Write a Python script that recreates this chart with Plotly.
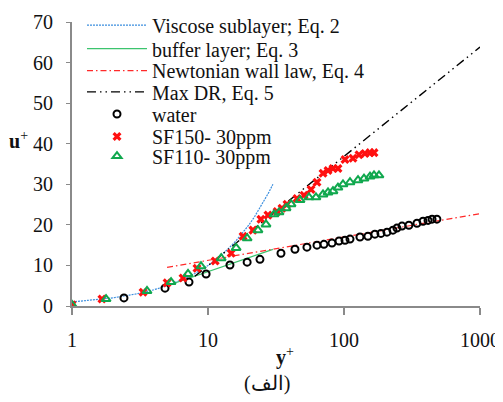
import plotly.graph_objects as go

# ---- data ----
water_y = [2.41, 4.83, 7.25, 9.68, 14.5, 19.4, 24.1, 34.4, 43.6, 53.4, 63.3, 71.2, 81.6, 91.9,
           101.7, 110.7, 131.0, 149.9, 168.7, 187.0, 207, 229, 245, 267, 300, 344, 381, 415, 444, 482]
water_u = [2.0, 4.4, 5.9, 7.9, 10.1, 10.8, 11.5, 13.0, 14.0, 14.5, 15.0, 15.2, 15.5, 16.0,
           16.2, 16.5, 17.0, 17.2, 17.7, 17.9, 18.2, 18.7, 19.2, 19.7, 19.9, 20.4, 20.9, 21.1, 21.4, 21.4]

sf150_y = [1.0, 1.66, 3.33, 5.0, 6.55, 8.3, 11.3, 14.8, 18.1, 21.4, 24.5, 27.6, 32.2, 35.0, 38.1,
           45.1, 50.8, 57.2, 63.3, 70.1, 76.3, 83.0, 90.3, 101.7, 116.4, 128.9, 142.6, 155.3, 166.2]
sf150_u = [0.3, 1.7, 3.4, 5.7, 6.9, 9.3, 11.1, 13.0, 17.2, 18.7, 21.4, 22.4, 23.3, 24.1, 25.1,
           26.5, 27.3, 28.7, 30.5, 32.7, 33.4, 33.9, 33.9, 36.1, 36.4, 37.3, 37.6, 37.8, 37.8]

sf110_y = [1.0, 1.78, 3.56, 5.35, 7.13, 8.88, 12.5, 16.1, 19.4, 23.3, 26.7, 30.6, 33.3, 37.5, 40.8,
           47.5, 55.3, 62.2, 70.1, 76.3, 83.0, 90.3, 98.3, 110.7, 126.8, 140.3, 155.3, 166.2, 180.8]
sf110_u = [0.3, 1.7, 3.7, 5.9, 7.9, 9.8, 11.8, 14.3, 16.7, 18.7, 20.1, 22.6, 23.1, 24.1, 25.1,
           26.1, 26.8, 26.8, 27.5, 28.0, 28.3, 29.2, 30.0, 30.5, 31.0, 31.4, 31.9, 32.2, 32.2]

# equation lines (Eq. 2: u+ = y+, Eq. 3-5 straight in log y+)
visc_y = [1, 1.5, 2, 3, 4, 5, 6, 7, 8, 10, 12, 14, 16, 18, 20, 22, 25, 28, 30]
visc_u = [1, 1.5, 2, 3, 4, 5, 6, 7, 8, 10, 12, 14, 16, 18, 20, 22, 25, 28, 30]
buffer_y = [5, 30]
buffer_u = [5.0, 13.96]
newt_y = [5, 1000]
newt_u = [9.52, 22.77]
maxdr_y = [8, 1000]
maxdr_u = [7.33, 63.82]

x_ticks = [1, 10, 100, 1000]
x_tick_text = ["1", "10", "100", "1000"]
y_ticks = [0, 10, 20, 30, 40, 50, 60, 70]

FONT = "Liberation Serif, Times New Roman, serif"

names = ["Viscose sublayer; Eq. 2", "buffer layer; Eq. 3", "Newtonian wall law, Eq. 4",
         "Max DR, Eq. 5", "water", "SF150- 30ppm", "SF110- 30ppm"]
legend_ids = ["legend", "legend2", "legend3", "legend4", "legend5", "legend6", "legend7"]
legend_rows = [0.989, 0.906, 0.829, 0.754, 0.676, 0.597, 0.528]

fig = go.Figure()
fig.add_trace(go.Scatter(x=visc_y, y=visc_u, mode="lines", name=names[0], legend=legend_ids[0],
                         line=dict(color="#3b8ede", width=1.2, dash="2px,1px")))
fig.add_trace(go.Scatter(x=buffer_y, y=buffer_u, mode="lines", name=names[1], legend=legend_ids[1],
                         line=dict(color="#3cc46e", width=1.2)))
fig.add_trace(go.Scatter(x=newt_y, y=newt_u, mode="lines", name=names[2], legend=legend_ids[2],
                         line=dict(color="#ff2a2a", width=1.2, dash="6px,3px,1.5px,3px")))
fig.add_trace(go.Scatter(x=maxdr_y, y=maxdr_u, mode="lines", name=names[3], legend=legend_ids[3],
                         line=dict(color="#000000", width=1.4, dash="9px,4px,1.5px,4px,1.5px,4px")))
fig.add_trace(go.Scatter(x=water_y, y=water_u, mode="markers", name=names[4], legend=legend_ids[4],
                         marker=dict(symbol="circle-open", size=7, color="#000000",
                                     line=dict(width=2, color="#000000"))))
fig.add_trace(go.Scatter(x=sf150_y, y=sf150_u, mode="markers", name=names[5], legend=legend_ids[5],
                         marker=dict(symbol="x", size=8, color="#ff1010",
                                     line=dict(width=0))))
fig.add_trace(go.Scatter(x=sf110_y, y=sf110_u, mode="markers", name=names[6], legend=legend_ids[6],
                         marker=dict(symbol="triangle-up-open", size=8, color="#10a84e",
                                     line=dict(width=2, color="#10a84e"))))

legends = {}
for lid, ly in zip(legend_ids, legend_rows):
    legends[lid] = dict(x=0.0245, y=ly, xanchor="left", yanchor="middle", itemwidth=60,
                        bgcolor="rgba(255,255,255,0)", borderwidth=0,
                        font=dict(family=FONT, size=20, color="#111"))

# the page body adds an 8px offset, so the figure is sized to fit the 503x402 window
fig.update_layout(
    width=495, height=394,
    margin=dict(l=64, r=23, t=14, b=96, autoexpand=False),
    paper_bgcolor="white", plot_bgcolor="white",
    font=dict(family=FONT, size=20, color="#222"),
    showlegend=True,
    xaxis=dict(type="log", range=[0, 3], tickvals=x_ticks, ticktext=x_tick_text,
               showgrid=False, zeroline=False, showline=True, linecolor="#8a8a8a", linewidth=2,
               ticks="outside", ticklen=7, tickwidth=2, tickcolor="#8a8a8a", automargin=False,
               ticklabelstandoff=8, tickfont=dict(family=FONT, size=20, color="#111")),
    yaxis=dict(range=[0, 70], tickvals=y_ticks, showgrid=False, zeroline=False,
               showline=True, linecolor="#8a8a8a", linewidth=2, automargin=False,
               ticks="outside", ticklen=4, tickwidth=1, tickcolor="#8a8a8a",
               ticklabelstandoff=9, tickfont=dict(family=FONT, size=20, color="#111")),
    annotations=[
        dict(text="<b>u</b><sup>+</sup>", xref="paper", yref="paper", x=-0.16, y=0.585,
             xanchor="left", yanchor="middle", showarrow=False,
             font=dict(family=FONT, size=20, color="#111")),
        dict(text="<b>y</b><sup>+</sup>", xref="paper", yref="paper", x=0.522, y=-0.178,
             xanchor="center", yanchor="middle", showarrow=False,
             font=dict(family=FONT, size=20, color="#111")),
        dict(text="(الف)", xref="paper", yref="paper", x=0.478, y=-0.272,
             xanchor="center", yanchor="middle", showarrow=False,
             font=dict(family=FONT, size=20, color="#111")),
    ],
    **legends,
)

fig.write_html("out.html")
